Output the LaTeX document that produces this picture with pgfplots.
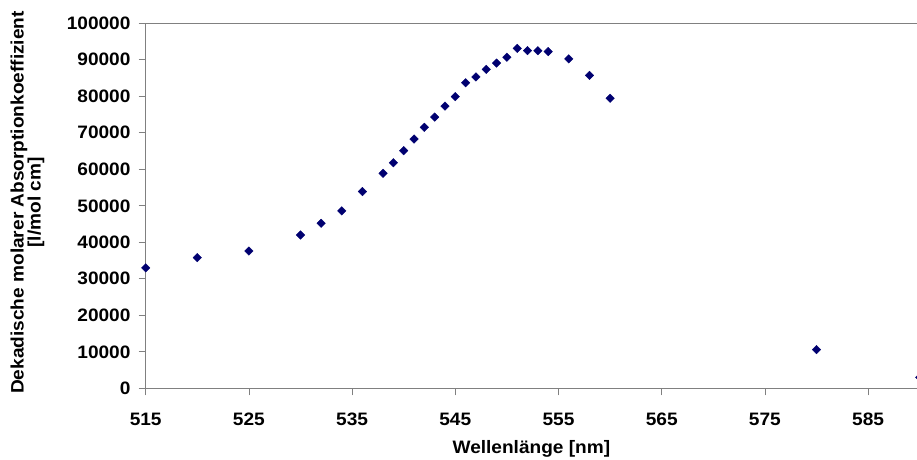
\documentclass[border=0pt]{standalone}
\usepackage{fontspec}
\setmainfont{Liberation Sans}[FakeStretch=1.06]
\usepackage{pgfplots}
\pgfplotsset{compat=1.18}
\definecolor{navyd}{RGB}{0,0,112}
\definecolor{axgray}{RGB}{128,128,128}
\newcommand{\lblfont}{\bfseries\fontsize{18}{17}\selectfont}
\begin{document}
\begin{tikzpicture}
\begin{axis}[
  at={(0,0)}, anchor=south west,
  scale only axis=true,
  width=774.0pt, height=365pt,
  xmin=515, xmax=590,
  ymin=0, ymax=100000,
  axis lines*=left,
  axis line style={axgray, line width=1pt},
  tick style={axgray, line width=0.8pt},
  tick align=outside,
  major tick length=7pt,
  xtick={515,525,...,585},
  ytick={0,10000,...,100000},
  scaled y ticks=false,
  /pgf/number format/.cd, fixed, precision=0, assume math mode=true, set thousands separator={},
  /pgfplots/.cd,
  tick label style={font=\lblfont, black},
  yticklabel style={xshift=-4.7pt},
  xticklabel style={yshift=-14pt},
  xlabel={Wellenlänge [nm]},
  ylabel={Dekadische molarer Absorptionkoeffizient\\{[l/mol cm]}},
  xlabel style={font=\lblfont, black, at={(axis description cs:0.4983,0)}, anchor=base, yshift=-65pt},
  ylabel style={font=\lblfont, black, align=center, at={(axis description cs:-0.1527,0.509)}, anchor=center},
]
\addplot[only marks, mark=square*, mark size=3pt, mark options={rotate=45, navyd, fill=navyd}] coordinates {
(515,33000) (520,35800) (525,37600) (530,42000) (532,45200) (534,48600)
(536,53900) (538,58900) (539,61800) (540,65100) (541,68300) (542,71500)
(543,74300) (544,77300) (545,79900) (546,83700) (547,85300) (548,87400)
(549,89100) (550,90700) (551,93150) (552,92500) (553,92500) (554,92250)
(556,90250) (558,85750) (560,79450) (580,10600) (590,3000)
};
\draw[axgray, line width=1pt] (rel axis cs:0,1) -- (rel axis cs:1,1);
\end{axis}
\pgfresetboundingbox
\path (-145.7pt,-70.7pt) rectangle (771.3pt,388.3pt);
\end{tikzpicture}
\end{document}
